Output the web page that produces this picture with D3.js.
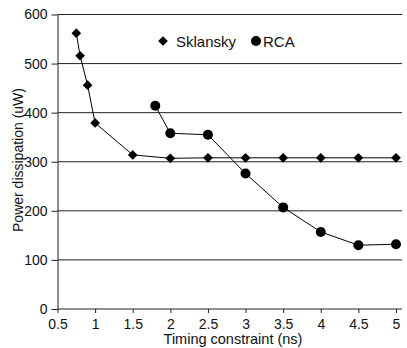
<!DOCTYPE html>
<html>
<head>
<meta charset="utf-8">
<script src="https://cdn.jsdelivr.net/npm/d3@7"></script>
<style>
  body { margin: 0; background: #fff; }
  text { font-family: "Liberation Sans", Arial, sans-serif; fill: #111; }
</style>
</head>
<body>
<svg id="chart" width="407" height="348"></svg>
<script>
var sklanskyX = [0.75, 0.8, 0.9, 1, 1.5, 2, 2.5, 3, 3.5, 4, 4.5, 5];
var sklanskyY = [562, 516, 456, 379, 314, 307, 308, 308, 308, 308, 308, 308];
var rcaX = [1.8, 2, 2.5, 3, 3.5, 4, 4.5, 5];
var rcaY = [414, 358, 355, 276, 207, 157, 130, 132];
var xTicks = [0.5, 1, 1.5, 2, 2.5, 3, 3.5, 4, 4.5, 5];
var yTicks = [0, 100, 200, 300, 400, 500, 600];

var svg = d3.select('#chart');

var x = d3.scaleLinear().domain([0.5, 5]).range([57.5, 396]);
var y = d3.scaleLinear().domain([0, 600]).range([309, 14.5]);

// grid lines
svg.append('g')
  .selectAll('line')
  .data(yTicks.slice(1))
  .join('line')
  .attr('x1', 57.5)
  .attr('x2', 402)
  .attr('y1', function (d) { return y(d); })
  .attr('y2', function (d) { return y(d); })
  .attr('stroke', '#222')
  .attr('stroke-width', 1);

var xAxis = svg.append('g')
  .attr('transform', 'translate(0,' + y(0) + ')')
  .call(d3.axisBottom(x).tickValues(xTicks).tickSize(4).tickSizeOuter(0)
    .tickFormat(function (d) { return String(d); }));

var yAxis = svg.append('g')
  .attr('transform', 'translate(' + x(0.5) + ',0)')
  .call(d3.axisLeft(y).tickValues(yTicks).tickSize(6).tickSizeOuter(0));

[xAxis, yAxis].forEach(function (a) {
  a.select('.domain').attr('stroke', '#222');
  a.selectAll('.tick line').attr('stroke', '#222');
  a.selectAll('text').style('font-size', '14px').attr('fill', '#111')
    .style('font-family', '"Liberation Sans", Arial, sans-serif');
});
xAxis.selectAll('text').attr('y', 8).attr('dy', '0.85em');
yAxis.selectAll('text').attr('x', -10);
xAxis.select('.domain').attr('d', 'M' + x(0.5) + ',0H402');

var line = d3.line()
  .x(function (d) { return x(d[0]); })
  .y(function (d) { return y(d[1]); });

var skl = d3.zip(sklanskyX, sklanskyY);
var rca = d3.zip(rcaX, rcaY);

svg.append('path').datum(skl).attr('d', line)
  .attr('fill', 'none').attr('stroke', '#000').attr('stroke-width', 1);
svg.append('path').datum(rca).attr('d', line)
  .attr('fill', 'none').attr('stroke', '#000').attr('stroke-width', 1);

var diamond = d3.symbol().type(d3.symbolDiamond2).size(60);

svg.append('g').selectAll('path')
  .data(skl)
  .join('path')
  .attr('d', diamond)
  .attr('transform', function (d) { return 'translate(' + x(d[0]) + ',' + y(d[1]) + ')'; })
  .attr('fill', '#000');

svg.append('g').selectAll('circle')
  .data(rca)
  .join('circle')
  .attr('cx', function (d) { return x(d[0]); })
  .attr('cy', function (d) { return y(d[1]); })
  .attr('r', 5)
  .attr('fill', '#000');

// legend
svg.append('path').attr('d', diamond).attr('transform', 'translate(163,41)').attr('fill', '#000');
svg.append('text').attr('x', 176).attr('y', 46.5).style('font-size', '15px').text('Sklansky');
svg.append('circle').attr('cx', 256).attr('cy', 41).attr('r', 5).attr('fill', '#000');
svg.append('text').attr('x', 263).attr('y', 46.5).style('font-size', '15px').text('RCA');

// axis titles
svg.append('text')
  .attr('transform', 'translate(23,160) rotate(-90)')
  .attr('text-anchor', 'middle')
  .style('font-size', '14px')
  .text('Power dissipation (uW)');

svg.append('text')
  .attr('x', 233)
  .attr('y', 344)
  .attr('text-anchor', 'middle')
  .style('font-size', '14.5px')
  .text('Timing constraint (ns)');
</script>
</body>
</html>
